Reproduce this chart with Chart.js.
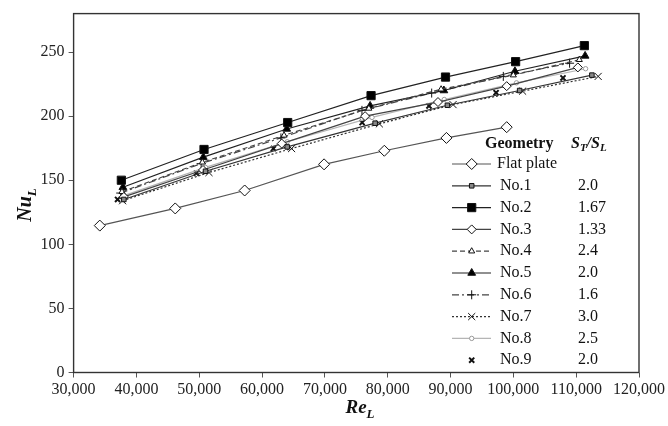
<!DOCTYPE html>
<html>
<head>
<meta charset="utf-8">
<script src="https://cdn.jsdelivr.net/npm/chart.js@4.4.1/dist/chart.umd.min.js"></script>
<style>
  html, body { margin: 0; padding: 0; background: #fff; }
</style>
</head>
<body>
<canvas id="nuChart" width="668" height="426"></canvas>
<script>
// values (Re_L, Nu_L)
const flatRe = [34170, 46180, 57230, 69870, 79460, 89350, 98940];
const flatNu = [114.6, 128, 142, 162.4, 173, 183, 191.4];

const no1Re = [38000, 51000, 64000, 78000, 89500, 101000, 112500];
const no1Nu = [135, 157, 176, 194.5, 208.5, 220, 232];

const no2Re = [37600, 50760, 64080, 77350, 89200, 100360, 111300];
const no2Nu = [150, 174, 195, 216, 230.5, 242.5, 255];

const no3Re = [38000, 50600, 63130, 76400, 88000, 98940, 110270];
const no3Nu = [137, 158, 178.6, 200, 211, 223.4, 238];

const no4Re = [37700, 50500, 63500, 77000, 88500, 100000, 110500];
const no4Nu = [141, 164, 185, 206, 221, 232, 244];

const no5Re = [37850, 50650, 63920, 77200, 88940, 100250, 111420];
const no5Nu = [144.5, 168, 190, 208, 220, 235, 247];

const no6Re = [37500, 50300, 63000, 75900, 87000, 98400, 108950];
const no6Nu = [140, 163, 183, 204.5, 218, 231, 241.3];

const no7Re = [37800, 51550, 64700, 78670, 90400, 101470, 113500];
const no7Nu = [134, 156, 174.7, 194, 209, 219.5, 231];

const no8Re = [38000, 51000, 64000, 77500, 89000, 100500, 111500];
const no8Nu = [138, 160, 180, 199, 213, 226, 237];

const no9Re = [37000, 49540, 61800, 75930, 86570, 97250, 107900];
const no9Nu = [135, 155.5, 174.7, 195, 208, 218.3, 229.8];

const seriesNames = ['Flat plate', 'No.1', 'No.2', 'No.3', 'No.4', 'No.5', 'No.6', 'No.7', 'No.8', 'No.9'];
const ratioLabels = ['', '2.0', '1.67', '1.33', '2.4', '2.0', '1.6', '3.0', '2.5', '2.0'];
const xTicks = [30000, 40000, 50000, 60000, 70000, 80000, 90000, 100000, 110000, 120000];
const yTicks = [0, 50, 100, 150, 200, 250];

const FONT = "'Liberation Serif', 'Times New Roman', serif";

function pts(re, nu) {
    return re.map((x, i) => ({ x: x, y: nu[i] }));
}

const allData = [
    pts(flatRe, flatNu), pts(no1Re, no1Nu), pts(no2Re, no2Nu), pts(no3Re, no3Nu), pts(no4Re, no4Nu),
    pts(no5Re, no5Nu), pts(no6Re, no6Nu), pts(no7Re, no7Nu), pts(no8Re, no8Nu), pts(no9Re, no9Nu)
];

// look of each series (line + marker)
const looks = [
    { color: '#555', dash: [], style: 'rectRot', r: 5.5, fill: '#fff' },
    { color: '#333', dash: [], style: 'rect', r: 3.2, fill: '#888' },
    { color: '#222', dash: [], style: 'rect', r: 5.8, fill: '#000' },
    { color: '#444', dash: [], style: 'rectRot', r: 4.5, fill: '#fff' },
    { color: '#444', dash: [5, 3], style: 'triangle', r: 3.5, fill: '#fff' },
    { color: '#222', dash: [], style: 'triangle', r: 4.5, fill: '#000' },
    { color: '#444', dash: [7, 3, 2, 3], style: 'cross', r: 4.5, fill: '#fff' },
    { color: '#333', dash: [2, 2], style: 'crossRot', r: 5, fill: '#fff' },
    { color: '#b5b5b5', dash: [], style: 'circle', r: 2.2, fill: '#fff' },
    { color: '#111', dash: [], style: 'crossRot', r: 3.6, fill: '#000', noLine: true, bw: 2 }
];

const datasets = allData.map((d, i) => {
    const lk = looks[i];
    return {
        label: seriesNames[i],
        data: d,
        borderColor: lk.color,
        borderWidth: 1.2,
        borderDash: lk.dash,
        showLine: !lk.noLine,
        pointStyle: lk.style,
        pointRadius: lk.r,
        pointBackgroundColor: lk.fill,
        pointBorderColor: i == 8 ? '#999' : '#111',
        pointBorderWidth: lk.bw || 1,
        tension: 0
    };
});

//draws the frame, the axis titles and the legend table
const decorPlugin = {
    id: 'decor',
    afterDraw(chart) {
        const ctx = chart.ctx;
        const a = chart.chartArea;
        ctx.save();
        ctx.strokeStyle = '#333';
        ctx.lineWidth = 1.4;
        ctx.strokeRect(a.left, a.top, a.right - a.left, a.bottom - a.top);

        ctx.fillStyle = '#111';
        ctx.textBaseline = 'alphabetic';

        // Nu_L
        ctx.save();
        ctx.translate(31, 205);
        ctx.rotate(-Math.PI / 2);
        ctx.font = "bold italic 20px " + FONT;
        let w1 = ctx.measureText('Nu').width;
        ctx.font = "bold italic 13px " + FONT;
        let w2 = ctx.measureText('L').width;
        let sx = -(w1 + w2) / 2;
        ctx.font = "bold italic 20px " + FONT;
        ctx.fillText('Nu', sx, 0);
        ctx.font = "bold italic 13px " + FONT;
        ctx.fillText('L', sx + w1, 5);
        ctx.restore();

        // Re_L
        ctx.font = "bold italic 19px " + FONT;
        w1 = ctx.measureText('Re').width;
        ctx.font = "bold italic 13px " + FONT;
        w2 = ctx.measureText('L').width;
        sx = 360 - (w1 + w2) / 2;
        ctx.font = "bold italic 19px " + FONT;
        ctx.fillText('Re', sx, 413);
        ctx.font = "bold italic 13px " + FONT;
        ctx.fillText('L', sx + w1, 418);

        // legend header
        ctx.textBaseline = 'middle';
        ctx.font = "bold 16px " + FONT;
        ctx.fillText('Geometry', 485, 144);
        let hx = 571;
        const parts = [['S', 16, 0], ['T', 11, 4], ['/', 16, 0], ['S', 16, 0], ['L', 11, 4]];
        parts.forEach(p => {
            ctx.font = "bold italic " + p[1] + "px " + FONT;
            ctx.fillText(p[0], hx, 144 + p[2]);
            hx += ctx.measureText(p[0]).width;
        });

        // legend rows
        const rowTop = 164;
        const rowH = 21.8;
        datasets.forEach((ds, i) => {
            const y = rowTop + rowH * i;
            if (ds.showLine) {
                ctx.save();
                ctx.strokeStyle = ds.borderColor;
                ctx.lineWidth = ds.borderWidth;
                ctx.setLineDash(ds.borderDash);
                ctx.beginPath();
                ctx.moveTo(452, y);
                ctx.lineTo(491, y);
                ctx.stroke();
                ctx.restore();
            }
            ctx.save();
            ctx.fillStyle = ds.pointBackgroundColor;
            ctx.strokeStyle = ds.pointBorderColor;
            ctx.lineWidth = ds.pointBorderWidth;
            ctx.setLineDash([]);
            Chart.helpers.drawPoint(ctx, {
                pointStyle: ds.pointStyle,
                radius: ds.pointRadius,
                rotation: 0,
                borderWidth: ds.pointBorderWidth
            }, 471.7, y);
            ctx.restore();

            ctx.fillStyle = '#111';
            ctx.font = "16px " + FONT;
            ctx.fillText(seriesNames[i], i == 0 ? 497 : 500, y);
            if (ratioLabels[i]) ctx.fillText(ratioLabels[i], 578, y);
        });
        ctx.restore();
    }
};

const ctx = document.getElementById('nuChart').getContext('2d');
const nuChart = new Chart(ctx, {
    type: 'scatter',
    data: { datasets: datasets },
    options: {
        responsive: false,
        animation: false,
        devicePixelRatio: 1,
        layout: { padding: { left: 0, right: 24.6, top: 7, bottom: 0 } },
        plugins: {
            legend: { display: false },
            tooltip: { enabled: false }
        },
        scales: {
            x: {
                type: 'linear',
                min: 30000,
                max: 120000,
                afterBuildTicks: (s) => { s.ticks = xTicks.map(v => ({ value: v })); },
                afterFit: (s) => { s.height = 53.5; },
                border: { display: false },
                grid: { drawOnChartArea: false, drawTicks: true, tickLength: 5, tickColor: '#555' },
                ticks: {
                    color: '#222',
                    padding: 3,
                    maxRotation: 0,
                    autoSkip: false,
                    font: { family: FONT, size: 16 },
                    callback: (v) => v.toLocaleString('en-US')
                }
            },
            y: {
                min: 0,
                max: 280,
                afterBuildTicks: (s) => { s.ticks = yTicks.map(v => ({ value: v })); },
                afterFit: (s) => { s.width = 73.6; },
                border: { display: false },
                grid: { drawOnChartArea: false, drawTicks: true, tickLength: 5, tickColor: '#555' },
                ticks: {
                    color: '#222',
                    padding: 4,
                    font: { family: FONT, size: 16 }
                }
            }
        }
    },
    plugins: [decorPlugin]
});
</script>
</body>
</html>
